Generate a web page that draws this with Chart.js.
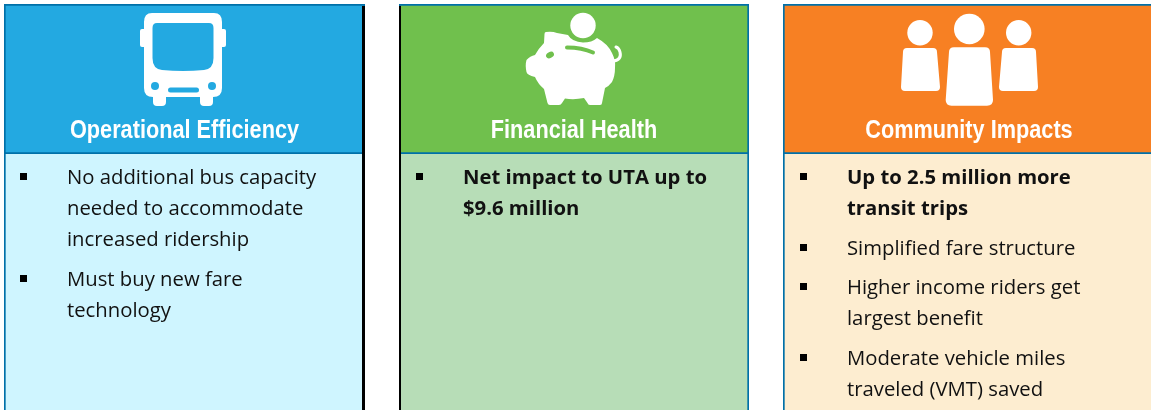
<!DOCTYPE html>
<html>
<head>
<meta charset="utf-8">
<title>Fare impacts</title>
<script src="https://cdn.jsdelivr.net/npm/chart.js@4"></script>
<style>
    html, body { margin: 0; padding: 0; background: #fff; width: 1151px; height: 410px; overflow: hidden; }
    .panel { position: absolute; top: 4px; height: 406px; }
    #panel0 { left: 4px; width: 361px; }
    #panel1 { left: 399px; width: 350px; }
    #panel2 { left: 783px; width: 372px; }
    .panel canvas { display: block; }
    .title {
        position: absolute; left: 0; right: 0; top: 108px; text-align: center;
        font: bold 25px/34px "Liberation Sans", sans-serif; color: #fff;
        transform: scaleX(0.868);
    }
    .icons { position: absolute; left: 0; top: 0; }
    ul { position: absolute; top: 157px; margin: 0; padding: 0; list-style: none;
         font: 20.3px/31px "Open Sans", sans-serif; color: #111; }
    li { position: relative; margin-bottom: 8.5px; white-space: nowrap; }
    li::before { content: ""; position: absolute; left: -47px; top: 12px; width: 7px; height: 7px; background: #000; }
    li.strong { font-weight: bold; }
</style>
</head>
<body>
<div class="panel" id="panel0"><canvas></canvas><div class="title"></div><ul style="left:63px"></ul></div>
<div class="panel" id="panel1"><canvas></canvas><div class="title"></div><ul style="left:64px"></ul></div>
<div class="panel" id="panel2"><canvas></canvas><div class="title"></div><ul style="left:64px"></ul></div>

<svg class="icons" width="1151" height="410" fill="#fff">
    <!-- bus -->
    <path fill-rule="evenodd" d="M152 13H214Q222 13 222 22V88Q222 97 213 97V102Q213 106 209 106H204Q200 106 200 102V97H166V102Q166 106 162 106H157Q153 106 153 102V97Q144 97 144 88V22Q144 13 152 13ZM157 23Q152.500 23 152.500 28V58Q152.500 69 162 70Q183 72 204 70Q213.500 69 213.500 58V28Q213.500 23 209 23Z"/>
    <rect x="140" y="29" width="6" height="18" rx="2"/>
    <rect x="220" y="29" width="6" height="18" rx="2"/>
    <circle cx="155" cy="86" r="4" fill="#23a9e1"/>
    <circle cx="212" cy="86" r="4" fill="#23a9e1"/>
    <rect x="168" y="87.500" width="31" height="5" rx="2.500" fill="#23a9e1"/>
    <!-- piggy bank -->
    <circle cx="583" cy="25.500" r="12.700"/>
    <path d="M546 32Q552 31 557 33L568 35Q572 42 583 42.500Q592 42.500 597 38Q608 44 612 53Q616 61 615 68Q615 76 612 82Q609 86 605 88L602 103Q602 105 600 105H590Q588 105 587.500 103L584 98Q574 100 565 98.500L562 103Q561 105 559 105H550Q548 105 547.500 103L544 89Q538 84 535 77Q527 75 526.500 72Q525 65 526.500 60Q530 56 535 55Q539 48 544 43L544.500 34Q544.500 32 546 32Z"/>
    <path d="M567 47.500Q582 47.500 593 52.500" fill="none" stroke="#70c04d" stroke-width="4" stroke-linecap="round"/>
    <ellipse cx="550" cy="55" rx="4.200" ry="3" transform="rotate(-30 550 55)" fill="#70c04d"/>
    <path d="M613 61Q622 60 620 52Q619 48 616 47" fill="none" stroke="#fff" stroke-width="3" stroke-linecap="round"/>
    <!-- people -->
    <circle cx="920" cy="32.700" r="12.700"/>
    <circle cx="969.300" cy="29" r="15.300"/>
    <circle cx="1018.700" cy="32.700" r="12.700"/>
    <path d="M907 48H933Q937 48 937 52L940 87Q940 91 936 91H905Q901 91 901 87L903 52Q903 48 907 48Z"/>
    <path d="M954 47.300H985Q990 47.300 990 52L993 100Q993 105.700 987 105.700H951.500Q945.700 105.700 945.700 100L949 52Q949 47.300 954 47.300Z"/>
    <path d="M1006 48H1032Q1036 48 1036 52L1038 87Q1038 91 1034 91H1003Q999 91 999 87L1002 52Q1002 48 1006 48Z"/>
</svg>

<script>
    const panelTitles = ['Operational Efficiency', 'Financial Health', 'Community Impacts'];
    const headerHeights = [150, 150, 150];
    const bodyHeights = [256, 256, 256];
    const headerColors = ['#23a9e1', '#70c04d', '#f78023'];
    const bodyColors = ['#cff5ff', '#b7ddb7', '#fdedd0'];
    const frameColor = '#0070a8';

    const operationalItems = [
        { lines: ['No additional bus capacity', 'needed to accommodate', 'increased ridership'] },
        { lines: ['Must buy new fare', 'technology'] }
    ];
    const financialItems = [
        { lines: ['Net impact to UTA up to', '$9.6 million'], strong: true }
    ];
    const communityItems = [
        { lines: ['Up to 2.5 million more', 'transit trips'], strong: true },
        { lines: ['Simplified fare structure'] },
        { lines: ['Higher income riders get', 'largest benefit'] },
        { lines: ['Moderate vehicle miles', 'traveled (VMT) saved'] }
    ];
    const panelItems = [operationalItems, financialItems, communityItems];

    // black rule between the first two panels
    const edgeSides = ['right', 'left', null];
    const edgePlugin = {
        id: 'panelEdge',
        afterDatasetsDraw(chart, args, opts) {
            if (!opts.side) return;
            const area = chart.chartArea;
            const x = opts.side === 'right' ? area.right - 3 : area.left;
            chart.ctx.fillStyle = '#000';
            chart.ctx.fillRect(x, area.top + 2, opts.side === 'right' ? 3 : 2, area.bottom - area.top);
        }
    };

    panelTitles.forEach((title, i) => {
        const panel = document.getElementById('panel' + i);
        panel.querySelector('.title').textContent = title;

        const list = panel.querySelector('ul');
        panelItems[i].forEach(item => {
            const li = document.createElement('li');
            if (item.strong) li.className = 'strong';
            item.lines.forEach((line, k) => {
                if (k) li.appendChild(document.createElement('br'));
                li.appendChild(document.createTextNode(line));
            });
            list.appendChild(li);
        });

        new Chart(panel.querySelector('canvas'), {
            type: 'bar',
            data: {
                labels: [title],
                datasets: [
                    { label: 'Body', data: [bodyHeights[i]], backgroundColor: bodyColors[i],
                      borderColor: frameColor, borderWidth: { left: 2, right: 2 }, borderSkipped: false },
                    { label: 'Header', data: [headerHeights[i]], backgroundColor: headerColors[i],
                      borderColor: frameColor, borderWidth: 2, borderSkipped: false }
                ]
            },
            options: {
                responsive: true,
                maintainAspectRatio: false,
                animation: false,
                layout: { padding: 0 },
                datasets: { bar: { categoryPercentage: 1, barPercentage: 1 } },
                scales: {
                    x: { stacked: true, display: false },
                    y: { stacked: true, display: false, min: 0, max: headerHeights[i] + bodyHeights[i] }
                },
                plugins: {
                    legend: { display: false },
                    tooltip: { enabled: false },
                    panelEdge: { side: edgeSides[i] }
                }
            },
            plugins: [edgePlugin]
        });
    });
</script>
</body>
</html>
